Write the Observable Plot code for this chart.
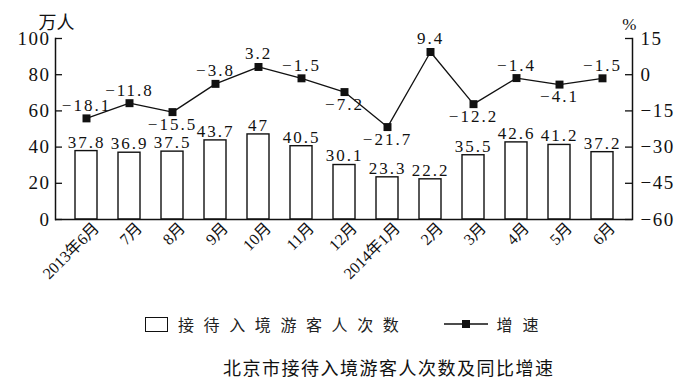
<!DOCTYPE html>
<html><head><meta charset="utf-8">
<script src="https://cdn.jsdelivr.net/npm/d3@7"></script>
<script src="https://cdn.jsdelivr.net/npm/@observablehq/plot@0.6"></script>
<style>
body{margin:0;background:#fff;}
#wrap{position:relative;width:696px;height:387px;overflow:hidden;background:#fff;}
#chart{position:absolute;left:0;top:0;}
#chart svg, #chart svg text{font-family:"Liberation Serif","Times New Roman","DejaVu Serif","Noto Sans CJK SC",serif !important;}
#chart .barlab text{letter-spacing:2px;}
#chart .ratelab text{letter-spacing:2px;}
#chart g[aria-label="y-axis tick label"] text{letter-spacing:1.5px;}
.legend{position:absolute;top:315px;left:145px;height:18px;display:flex;align-items:center;font-family:"Noto Sans CJK SC",sans-serif;font-size:16px;color:#222;}
.legend .box{width:21px;height:13px;border:1.5px solid #111;margin-right:10px;}
.legend .t1{letter-spacing:9.6px;}
.legend .sw{margin-left:36px;margin-right:8px;}
.legend .t2{letter-spacing:10px;}
.title{position:absolute;top:355px;left:223px;font-family:"Noto Sans CJK SC",sans-serif;font-size:18px;letter-spacing:1.5px;color:#111;line-height:24px;}
</style></head><body>
<div id="wrap">
<div id="chart"></div>
<div class="legend"><div class="box"></div><span class="t1">接待入境游客人次数</span><svg class="sw" width="44" height="12"><line x1="0" y1="6" x2="44" y2="6" stroke="#111" stroke-width="1.4"/><rect x="18" y="2" width="8" height="8" fill="#111"/></svg><span class="t2">增速</span></div>
<div class="title">北京市接待入境游客人次数及同比增速</div>
</div>
<script>
const months = ["2013年6月","7月","8月","9月","10月","11月","12月","2014年1月","2月","3月","4月","5月","6月"];
const visitors = [37.8,36.9,37.5,43.7,47,40.5,30.1,23.3,22.2,35.5,42.6,41.2,37.2];
const growth = [-18.1,-11.8,-15.5,-3.8,3.2,-1.5,-7.2,-21.7,9.4,-12.2,-1.4,-4.1,-1.5];
const leftTicks = [0,20,40,60,80,100];
const rightTicks = [15,0,-15,-30,-45,-60];
const growthLabelSide = ["above","above","below","above","above","above","below","below","above","below","above","below","above"];

const rMin = -60, rMax = 15;
const toLeft = g => (g - rMin) * 100 / (rMax - rMin);
const fromLeft = v => Math.round(v * (rMax - rMin) / 100 + rMin);
const fmt = v => v < 0 ? "\u2212" + Math.abs(v) : String(v);

const data = months.map((m, i) => ({month: m, visitors: visitors[i], growth: growth[i], side: growthLabelSide[i]}));

const W = 696, ML = 55, MR = 64;
const frameW = W - ML - MR;

const serif = "'Liberation Serif', 'Times New Roman', 'DejaVu Serif', 'Noto Sans CJK SC', serif";

const chart = Plot.plot({
  width: W, height: 305,
  marginLeft: ML, marginRight: MR, marginTop: 38, marginBottom: 86,
  style: {fontFamily: serif, color: "#111", background: "white"},
  x: {domain: months, paddingInner: 0.49, paddingOuter: 0.39},
  y: {domain: [0, 100]},
  marks: [
    Plot.barY(data, {x: "month", y: "visitors", fill: "white", stroke: "#111", strokeWidth: 1.4}),
    Plot.text(data, {x: "month", y: "visitors", text: d => fmt(d.visitors), dy: -9, fontSize: 17, fontFamily: serif, fill: "#111", className: "barlab"}),
    Plot.line(data, {x: "month", y: d => toLeft(d.growth), stroke: "#111", strokeWidth: 1.3}),
    Plot.dot(data, {x: "month", y: d => toLeft(d.growth), symbol: "square", r: 4.5, fill: "#111"}),
    Plot.text(data, {filter: d => d.side === "above", x: "month", y: d => toLeft(d.growth), text: d => fmt(d.growth), dy: -13, fontSize: 17, fontFamily: serif, fill: "#111", className: "ratelab"}),
    Plot.text(data, {filter: d => d.side === "below", x: "month", y: d => toLeft(d.growth), text: d => fmt(d.growth), dy: 12, fontSize: 17, fontFamily: serif, fill: "#111", className: "ratelab"}),
    Plot.ruleY([0], {stroke: "#111", strokeWidth: 1.5}),
    Plot.frame({anchor: "left", stroke: "#111", strokeWidth: 1.5}),
    Plot.frame({anchor: "right", stroke: "#111", strokeWidth: 1.5}),
    Plot.ruleY(leftTicks, {y: d => d, insetRight: frameW - 7, stroke: "#111", strokeWidth: 1.3}),
    Plot.ruleY(rightTicks.map(toLeft), {y: d => d, insetLeft: frameW - 7, stroke: "#111", strokeWidth: 1.3}),
    Plot.axisY(leftTicks, {anchor: "left", tickSize: 0, tickPadding: 5, fontSize: 19, fontFamily: serif, label: null}),
    Plot.axisY(rightTicks.map(toLeft), {anchor: "right", tickSize: 0, tickPadding: 8, fontSize: 19, fontFamily: serif, label: null, tickFormat: v => fmt(fromLeft(v))}),
    Plot.axisX({tickSize: 0, tickRotate: -45, tickPadding: 6, dx: 10, fontSize: 16, fontFamily: serif, label: null}),
    Plot.text(["万人"], {frameAnchor: "top-left", text: d => d, dx: -17, dy: -22, fontSize: 18, fontFamily: serif, fill: "#111"}),
    Plot.text(["%"], {frameAnchor: "top-right", text: d => d, dx: 4, dy: -21, fontSize: 17, fontFamily: serif, fill: "#111"})
  ]
});
document.getElementById("chart").appendChild(chart);
</script>
</body></html>
